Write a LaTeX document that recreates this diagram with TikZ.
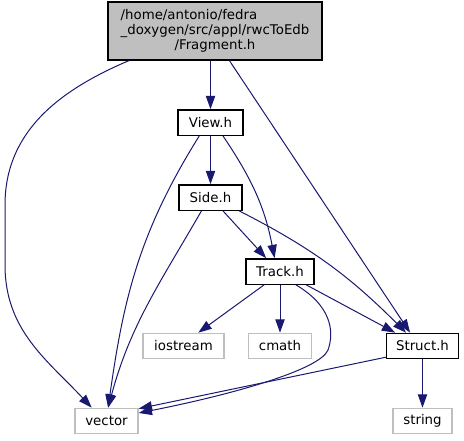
\documentclass[tikz,border=0pt]{standalone}
\usepackage{fontspec}
\setmainfont{DejaVu Sans}
\usepackage{tikz}
\usetikzlibrary{arrows.meta}
\definecolor{edgeblue}{HTML}{191970}
\definecolor{grey75}{HTML}{BFBFBF}

\begin{document}
\begin{tikzpicture}[x=0.75pt, y=-0.75pt, font=\fontsize{10}{11.25}\selectfont,
                    file/.style={draw=black, line width=1pt, inner sep=0pt, minimum height=19pt},
                    sys/.style={draw=grey75, line width=1pt, inner sep=0pt, minimum height=19pt},
                    dep/.style={draw=edgeblue, line width=0.75pt, -{Triangle[length=10pt, width=7pt]}}]
                    \useasboundingbox (0,0) rectangle (464,440);
                    \node[file, fill=grey75, minimum width=160.5pt, minimum height=43.5pt] (frag) at (215,31)
                        {\begin{tabular}{@{}l@{}}/home/antonio/fedra\\\_doxygen/src/appl/rwcToEdb\\\multicolumn{1}{@{}c@{}}{/Fragment.h}\end{tabular}};
                    \node[file, minimum width=48.75pt] (view) at (210.5,122.5) {View.h};
                    \node[file, minimum width=47.25pt] (side) at (210.5,197.5) {Side.h};
                    \node[file, minimum width=51pt] (track) at (280,271.5) {Track.h};
                    \node[sys, minimum width=60.75pt] (iostream) at (183.5,346) {iostream};
                    \node[sys, minimum width=47.25pt] (cmath) at (280,346) {cmath};
                    \node[file, minimum width=54pt] (struct) at (422.5,346) {Struct.h};
                    \node[sys, minimum width=47.25pt] (vector) at (106.5,421) {vector};
                    \node[sys, minimum width=44.25pt] (string) at (422.5,421) {string};

                    \draw[dep] (view.north |- frag.south) -- (view);
                    \draw[dep] (frag.296) -- (struct.133);
                    \draw[dep] (frag.199) to[out=203, in=90] (5,205) -- (5,265) to[out=-90, in=133] (vector.138);
                    \draw[dep] (view) -- (side);
                    \draw[dep] (view.313) to[out=-56, in=101] (track.112);
                    \draw[dep] (view.230) to[out=238, in=82] (vector.83);
                    \draw[dep] (side.313) -- (track.136);
                    \draw[dep] (side.236) to[out=240, in=75] (vector.83);
                    \draw[dep] (side.335) to[out=-27, in=135] (struct.141);
                    \draw[dep] (track.220) -- (iostream.42);
                    \draw[dep] (track) -- (cmath);
                    \draw[dep] (track.333) -- (struct.154);
                    \draw[dep] (track.320) .. controls (330,305) and (335,330) .. (328,350)
                                           .. controls (320,370) and (230,395) .. (vector.14);
                    \draw[dep] (struct.197) -- (vector.21);
                    \draw[dep] (struct) -- (string);
\end{tikzpicture}
\end{document}
